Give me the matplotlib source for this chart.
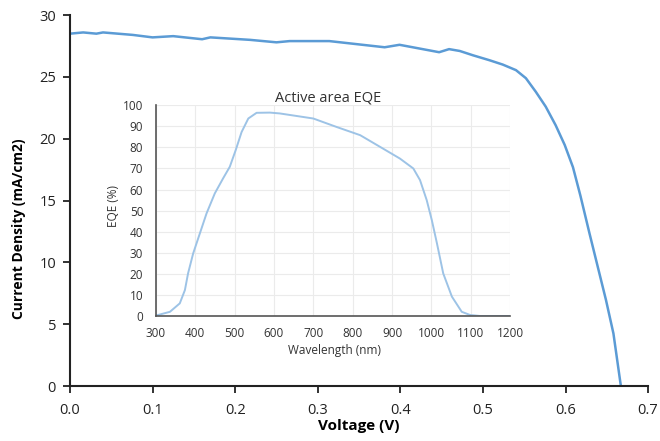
import numpy as np
import matplotlib
matplotlib.use('Agg')
import matplotlib.pyplot as plt

plt.rcParams['font.family'] = ['Open Sans', 'DejaVu Sans']

# J-V curve
voltage = [0.0, 0.016, 0.032, 0.04, 0.076, 0.1, 0.125, 0.16, 0.17, 0.218,
           0.25, 0.266, 0.314, 0.381, 0.399, 0.447, 0.459, 0.472, 0.488,
           0.508, 0.524, 0.540, 0.552, 0.564, 0.576, 0.588, 0.599, 0.609,
           0.618, 0.629, 0.639, 0.649, 0.658, 0.667]
current = [28.5, 28.6, 28.5, 28.6, 28.4, 28.2, 28.3, 28.05, 28.2, 28.0,
           27.8, 27.9, 27.9, 27.4, 27.6, 27.0, 27.25, 27.1, 26.75,
           26.35, 26.0, 25.55, 24.9, 23.8, 22.6, 21.1, 19.5, 17.7,
           15.4, 12.35, 9.65, 6.95, 4.25, 0.0]

# EQE curve (inset)
wavelength = [300, 306, 336, 361, 374, 382, 395, 412, 429, 450, 471, 488,
              503, 518, 535, 556, 590, 615, 700, 759, 819, 870, 920, 954,
              971, 988, 1001, 1014, 1030, 1052, 1077, 1098, 1124, 1200]
eqe = [0.3, 0.5, 2.0, 6.0, 12.3, 20.2, 29.7, 39.2, 48.7, 58.2, 65.3, 70.8,
       78.7, 87.3, 93.7, 96.4, 96.5, 96.1, 93.7, 89.7, 85.8, 80.2, 74.7, 70.0,
       64.5, 55.0, 45.5, 34.5, 20.2, 9.2, 2.0, 0.5, 0.0, 0.0]

fig = plt.figure(figsize=(6.6, 4.41), dpi=100)
ax = fig.add_axes([0.106, 0.1247, 0.876, 0.841])
ax.plot(voltage, current, color='#5B9BD5', lw=1.8)
ax.set_xlim(0, 0.7)
ax.set_ylim(0, 30)
ax.set_xticks(np.arange(0, 0.71, 0.1))
ax.set_xticklabels(['%.1f' % v for v in np.arange(0, 0.71, 0.1)])
ax.set_yticks(range(0, 31, 5))
for s in ['top', 'right']:
    ax.spines[s].set_visible(False)
for s in ['left', 'bottom']:
    ax.spines[s].set_linewidth(1.5)
    ax.spines[s].set_color('#222222')
ax.tick_params(labelsize=10.5, width=1.3, length=5, color='#222222',
               labelcolor='#222222')
ax.tick_params(axis='x', pad=7)
ax.tick_params(axis='y', pad=5)
ax.set_xlabel('Voltage (V)', fontsize=11, fontweight='bold')
ax.set_ylabel('Current Density (mA/cm2)', fontsize=10, fontweight='bold')
ax.xaxis.set_label_coords(0.5, -0.088)
ax.yaxis.set_label_coords(-0.076, 0.423)

ins = fig.add_axes([0.236, 0.2834, 0.537, 0.478])
ins.plot(wavelength, eqe, color='#9DC3E6', lw=1.4)
ins.set_xlim(300, 1200)
ins.set_ylim(0, 100)
ins.set_xticks(range(300, 1201, 100))
ins.set_yticks(range(0, 101, 10))
ins.grid(True, color='#ebebeb', lw=0.8)
ins.set_axisbelow(True)
for s in ['top', 'right']:
    ins.spines[s].set_visible(False)
for s in ['left', 'bottom']:
    ins.spines[s].set_color('#555555')
    ins.spines[s].set_linewidth(1.2)
ins.tick_params(labelsize=8.5, length=0, labelcolor='#333333')
ins.tick_params(axis='x', pad=8)
ins.tick_params(axis='y', pad=9)
ins.set_title('Active area EQE', fontsize=10.5, color='#333333', pad=2,
              x=0.485)
ins.set_xlabel('Wavelength (nm)', fontsize=8.5, color='#333333')
ins.set_ylabel('EQE (%)', fontsize=8.5, color='#333333')
ins.xaxis.set_label_coords(0.505, -0.135)
ins.yaxis.set_label_coords(-0.10, 0.52)

fig.savefig('out.png', dpi=100)
